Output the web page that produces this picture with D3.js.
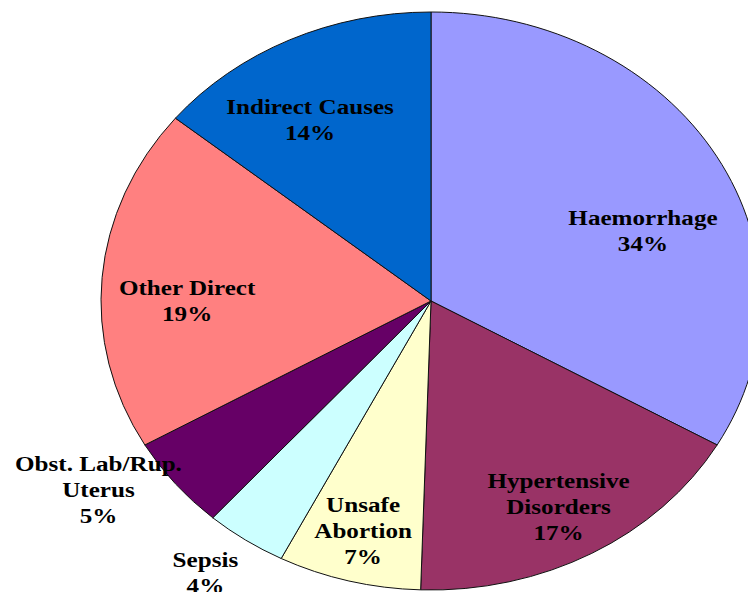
<!DOCTYPE html>
<html>
<head>
<meta charset="utf-8">
<script src="https://cdn.jsdelivr.net/npm/d3@7"></script>
<style>
    body { margin: 0; background: #fff; }
    svg { display: block; }
    .label { font-family: "Liberation Serif", "Times New Roman", serif; font-weight: bold; font-size: 22px; fill: #000; }
</style>
</head>
<body>
<svg width="748" height="592"></svg>
<script>
// causes of maternal death, share of the pie as drawn
const causes = ["Haemorrhage", "Hypertensive Disorders", "Unsafe Abortion", "Sepsis",
                "Obst. Lab/Rup. Uterus", "Other Direct", "Indirect Causes"];
const shares = [33.3, 17.2, 7.0, 4.0, 5.2, 19.2, 14.1];
const percentLabels = ["34%", "17%", "7%", "4%", "5%", "19%", "14%"];
// how each label is broken into lines
const labelLines = [
    ["Haemorrhage"],
    ["Hypertensive", "Disorders"],
    ["Unsafe", "Abortion"],
    ["Sepsis"],
    ["Obst. Lab/Rup.", "Uterus"],
    ["Other Direct"],
    ["Indirect Causes"]
];
const colors = ["#9999ff", "#993366", "#ffffcc", "#ccffff", "#660066", "#ff8080", "#0066cc"];

// label placement: angle shift from slice middle (deg), distance as part of radius
const labelShift = [9.5, 0.7, 0.1, 1.8, 6.2, -4.7, -4.9];
const labelDist = [0.686, 0.811, 0.822, 1.163, 1.202, 0.739, 0.727];

window.addEventListener("DOMContentLoaded", draw);

function draw() {
    const svg = d3.select("svg");
    const radius = 289;
    const stretch = 330 / 289; // the pie is drawn as a wide ellipse

    const chart = svg.append("g")
          .attr("transform", `translate(431,301) scale(${stretch},1)`);

    const data = causes.map((c, i) => ({cause: c, value: shares[i], index: i}));

    const pie = d3.pie()
          .sort(null)
          .value((d) => d.value);
    const arc = d3.arc()
          .innerRadius(0)
          .outerRadius(radius);

    const arcs = pie(data);

    chart.selectAll(".slice")
        .data(arcs)
        .enter().append("path")
        .attr("class", "slice")
        .attr("d", arc)
        .style("fill", (d) => colors[d.data.index])
        .style("stroke", "#111")
        .style("stroke-width", 1)
        .attr("vector-effect", "non-scaling-stroke");

    const lineHeight = 26;
    const label = chart.selectAll(".label")
          .data(arcs)
          .enter().append("text")
          .attr("class", "label")
          .attr("text-anchor", "middle")
          .attr("transform", function(d) {
              const i = d.data.index;
              const a = (d.startAngle + d.endAngle) / 2 + labelShift[i] * Math.PI / 180;
              const r = radius * labelDist[i];
              return `translate(${r * Math.sin(a)},${-r * Math.cos(a)})`;
          });

    label.each(function(d) {
        const i = d.data.index;
        const lines = labelLines[i].concat([percentLabels[i]]);
        const t = d3.select(this);
        lines.forEach(function(line, k) {
            t.append("tspan")
                .attr("x", 0)
                .attr("y", (k - (lines.length - 1) / 2) * lineHeight + 7)
                .text(line);
        });
    });
}
</script>
</body>
</html>
